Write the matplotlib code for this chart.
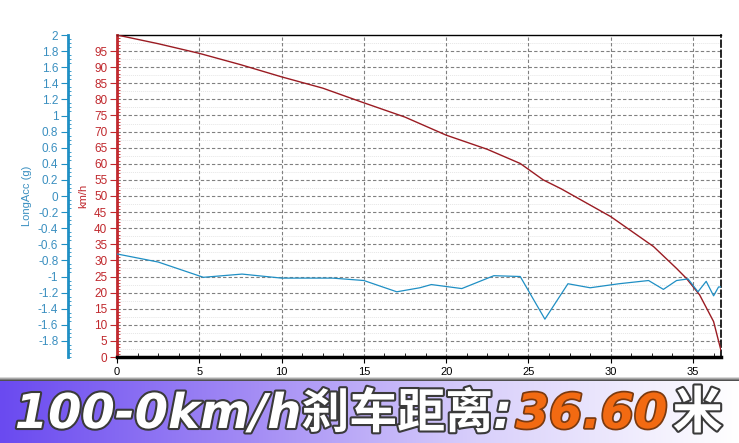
import numpy as np
import matplotlib.pyplot as plt
import matplotlib.patheffects as pe
from matplotlib.colors import LinearSegmentedColormap

# speed trace (km/h) vs distance (m)
dist_speed = [0, 2.5, 5, 7.5, 10, 12.5, 14.8, 17.5, 20, 22.5, 24.5, 25.9, 27,
              30, 32.6, 34, 34.6, 35.4, 36.25, 36.7]
speed = [100, 97.3, 94.3, 90.8, 87, 83.5, 79.3, 74.5, 68.9, 64.5, 60.1, 55,
         52.2, 43.6, 34.3, 27.5, 24.4, 19.3, 11, 2]

# longitudinal acceleration (g) vs distance (m)
dist_acc = [0, 2.5, 5.25, 7.6, 10, 13.1, 15, 17, 18.4, 19.1, 20.95, 22.9, 24.5,
            26, 27.4, 28.75, 30.5, 32.3, 33.2, 34.0, 34.7, 35.3, 35.8, 36.25,
            36.55, 36.7]
long_acc = [-0.72, -0.82, -1.01, -0.97, -1.02, -1.02, -1.05, -1.19, -1.14,
            -1.10, -1.15, -0.99, -1.0, -1.53, -1.09, -1.14, -1.09, -1.05,
            -1.16, -1.05, -1.03, -1.19, -1.06, -1.24, -1.13, -1.13]

x_ticks = [0, 5, 10, 15, 20, 25, 30, 35]
speed_ticks = list(range(0, 100, 5))
acc_ticks = [-1.8, -1.6, -1.4, -1.2, -1, -0.8, -0.6, -0.4, -0.2, 0,
             0.2, 0.4, 0.6, 0.8, 1, 1.2, 1.4, 1.6, 1.8, 2]

RED = '#c0282d'
RED_LINE = '#9a1b22'
BLUE = '#1f8fc4'
BLUE_TXT = '#3a8fc0'

plt.rcParams['font.family'] = ['Liberation Sans', 'DejaVu Sans']

fig = plt.figure(figsize=(7.39, 4.43), dpi=100)
ax = fig.add_axes([117 / 739, 1 - 357 / 443, (721 - 117) / 739, (357 - 35) / 443])

# faint secondary grid
ax.hlines(np.arange(2.5, 100, 5), 0, 36.7, colors='#e6e6e6', linestyles=(0, (1, 1)), linewidth=0.7, zorder=0)
ax.grid(True, which='major', linestyle=(0, (3, 2)), color='#808080', linewidth=0.8)

ax.plot(dist_speed, speed, color=RED_LINE, linewidth=1.0, zorder=3)
ax.set_xlim(0, 36.7)
ax.set_ylim(0, 100)
ax.set_xticks(x_ticks)
ax.set_xticks(np.arange(0, 36.7, 1.25), minor=True)
ax.set_yticks(speed_ticks)
ax.set_yticks(np.arange(0, 100, 1), minor=True)
ax.tick_params(axis='x', which='major', length=4, labelsize=8, colors='black', pad=3)
ax.tick_params(axis='x', which='minor', length=3, direction='in')
ax.tick_params(axis='y', which='major', length=5, labelsize=8.5, colors=RED, labelcolor=RED, pad=2)
ax.tick_params(axis='y', which='minor', length=2.5, direction='in', colors=RED)
ax.set_ylabel('km/h', color=RED, fontsize=8, labelpad=4)

ax.spines['left'].set_color(RED)
ax.spines['left'].set_linewidth(2)
ax.spines['bottom'].set_linewidth(2.5)
ax.spines['top'].set_linewidth(1)
ax.spines['right'].set_linestyle((0, (4, 2)))
ax.spines['right'].set_linewidth(1.2)

ax2 = ax.twinx()
ax2.plot(dist_acc, long_acc, color=BLUE, linewidth=0.9, zorder=2)
ax2.set_ylim(-2, 2)
ax2.yaxis.set_ticks_position('left')
ax2.yaxis.set_label_position('left')
for s in ['top', 'bottom', 'right']:
    ax2.spines[s].set_visible(False)
ax2.spines['left'].set_position(('outward', 49 * 0.72))
ax2.spines['left'].set_color(BLUE)
ax2.spines['left'].set_linewidth(2)
ax2.set_yticks(acc_ticks)
ax2.set_yticklabels([str(v) for v in acc_ticks])
ax2.set_yticks(np.arange(-2, 2.001, 0.05), minor=True)
ax2.tick_params(axis='y', which='major', length=5, labelsize=8.5, colors=BLUE, labelcolor=BLUE_TXT, pad=2)
ax2.tick_params(axis='y', which='minor', length=2, direction='in', colors=BLUE)
ax2.set_ylabel('LongAcc (g)', color=BLUE_TXT, fontsize=8, labelpad=4)

# separator and gradient banner
sep = fig.add_axes([0, 1 - 381 / 443, 1, 4 / 443])
sep.imshow(np.linspace(0, 1, 4).reshape(-1, 1), cmap=LinearSegmentedColormap.from_list('s', ['#d8d8d8', '#505050']),
           aspect='auto', extent=(0, 1, 0, 1))
sep.axis('off')
ban = fig.add_axes([0, 0, 1, 62 / 443])
grad = np.linspace(0, 1, 256).reshape(1, -1)
cmap = LinearSegmentedColormap.from_list('b', [(0, '#6a4af0'), (0.35, '#a58ef5'), (0.65, '#d9d0fb'), (1, '#ffffff')])
ban.imshow(grad, cmap=cmap, aspect='auto', extent=(0, 1, 0, 1))
ban.set_xlim(0, 1)
ban.set_ylim(0, 1)
ban.axis('off')

fx = [pe.withStroke(linewidth=3, foreground='#3a3a3a')]
fam = ['DejaVu Sans', 'Noto Sans CJK SC']
t1 = ban.text(0.02, 0.46, '100-0km/h刹车距离:', fontsize=34.5, fontweight='bold', style='italic',
              color='white', family=fam, va='center', ha='left', path_effects=fx)
t2 = ban.annotate('36.60', xy=(1, 0), xycoords=t1, xytext=(3, 0), textcoords='offset points',
                  fontsize=34.5, fontweight='bold', style='italic', color='#f26a12', family=fam,
                  va='bottom', ha='left',
                  path_effects=[pe.withStroke(linewidth=2.5, foreground='#7a3a10')])
t3 = ban.annotate('米', xy=(1, 0), xycoords=t2, xytext=(4, 0), textcoords='offset points',
                  fontsize=36, fontweight='bold', color='white', family=fam, va='bottom', ha='left',
                  path_effects=fx)

fig.savefig('out.png', dpi=100)
